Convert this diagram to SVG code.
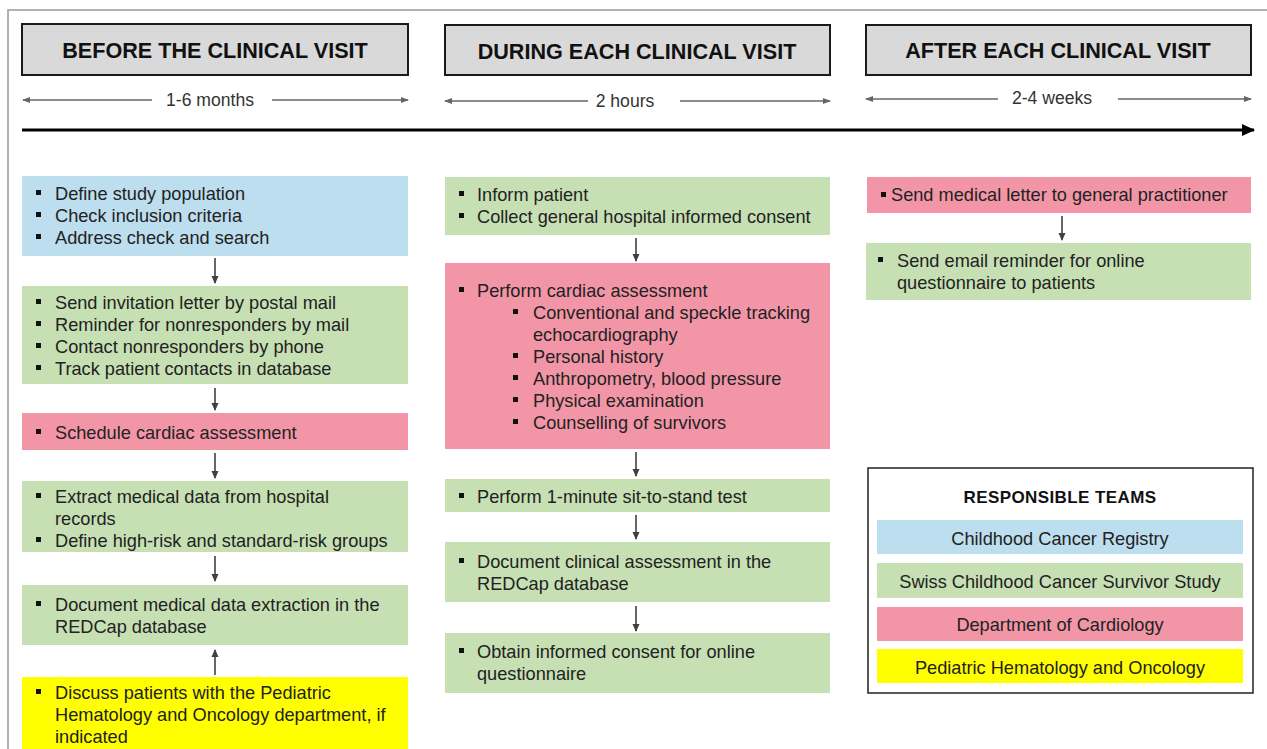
<svg xmlns="http://www.w3.org/2000/svg" width="1267" height="749" viewBox="0 0 1267 749">
<defs>
<marker id="ah" markerWidth="8" markerHeight="8" refX="7" refY="4" orient="auto" markerUnits="userSpaceOnUse">
<path d="M0,0.5 L8,4 L0,7.5 Z" fill="#404040"/>
</marker>
<marker id="ahd" markerWidth="10" markerHeight="8" refX="7" refY="4" orient="auto-start-reverse" markerUnits="userSpaceOnUse">
<path d="M0,1 L8,4 L0,7 Z" fill="#666"/>
</marker>
<marker id="ahm" markerWidth="14" markerHeight="12" refX="12" refY="6" orient="auto" markerUnits="userSpaceOnUse">
<path d="M0,0 L13,6 L0,12 Z" fill="#000"/>
</marker>
</defs>
<style>
text{font-family:"Liberation Sans",Arial,sans-serif;fill:#222;font-size:18.2px}
.hdr{fill:#D9D9D9;stroke:#1a1a1a;stroke-width:2}
.ht{font-weight:bold;font-size:21.6px;fill:#111;text-anchor:middle}
.dur{font-size:17.6px;fill:#333;text-anchor:middle}
.blue{fill:#BDDEEE}
.green{fill:#C6E0B4}
.pink{fill:#F296A7}
.yellow{fill:#FFFF00}
.b{fill:#111}
.conn{stroke:#404040;stroke-width:1.6;fill:none;marker-end:url(#ah)}
.durl{stroke:#666;stroke-width:1.3;fill:none}
.lt{text-anchor:middle}
</style>
<rect width="1267" height="749" fill="#fff"/>
<g id="frame" fill="none" stroke="#999" stroke-width="1.5">
<path d="M8,749 L8,10 L1267,10"/>
</g>

<g id="header-before">
<rect class="hdr" x="22" y="24" width="386" height="51"/>
<text class="ht" x="215" y="58">BEFORE THE CLINICAL VISIT</text>
</g>
<g id="header-during">
<rect class="hdr" x="445" y="25" width="385" height="50"/>
<text class="ht" x="637" y="59">DURING EACH CLINICAL VISIT</text>
</g>
<g id="header-after">
<rect class="hdr" x="866" y="25" width="385" height="50"/>
<text class="ht" x="1058" y="58">AFTER EACH CLINICAL VISIT</text>
</g>

<g id="durations">
<line class="durl" x1="152" y1="100" x2="23" y2="100" marker-end="url(#ahd)"/>
<line class="durl" x1="272" y1="100" x2="408" y2="100" marker-end="url(#ahd)"/>
<text class="dur" x="210" y="106">1-6 months</text>
<line class="durl" x1="588" y1="101" x2="445" y2="101" marker-end="url(#ahd)"/>
<line class="durl" x1="680" y1="101" x2="830" y2="101" marker-end="url(#ahd)"/>
<text class="dur" x="625" y="107">2 hours</text>
<line class="durl" x1="998" y1="99" x2="866" y2="99" marker-end="url(#ahd)"/>
<line class="durl" x1="1118" y1="99" x2="1251" y2="99" marker-end="url(#ahd)"/>
<text class="dur" x="1052" y="104">2-4 weeks</text>
</g>

<g id="timeline">
<line x1="22" y1="130" x2="1254" y2="130" stroke="#000" stroke-width="3" marker-end="url(#ahm)"/>
</g>

<!-- Left column -->
<g id="n-define">
<rect class="blue" x="22" y="176" width="386" height="80"/>
<rect class="b" x="36" y="190" width="5" height="5"/><text x="55" y="200">Define study population</text>
<rect class="b" x="36" y="212" width="5" height="5"/><text x="55" y="222">Check inclusion criteria</text>
<rect class="b" x="36" y="234" width="5" height="5"/><text x="55" y="244">Address check and search</text>
</g>
<g id="n-invite">
<rect class="green" x="22" y="286" width="386" height="98"/>
<rect class="b" x="36" y="299" width="5" height="5"/><text x="55" y="309">Send invitation letter by postal mail</text>
<rect class="b" x="36" y="321" width="5" height="5"/><text x="55" y="331">Reminder for nonresponders by mail</text>
<rect class="b" x="36" y="343" width="5" height="5"/><text x="55" y="353">Contact nonresponders by phone</text>
<rect class="b" x="36" y="365" width="5" height="5"/><text x="55" y="375">Track patient contacts in database</text>
</g>
<g id="n-schedule">
<rect class="pink" x="22" y="413" width="386" height="37"/>
<rect class="b" x="36" y="429" width="5" height="5"/><text x="55" y="439">Schedule cardiac assessment</text>
</g>
<g id="n-extract">
<rect class="green" x="22" y="481" width="386" height="71"/>
<rect class="b" x="36" y="493" width="5" height="5"/><text x="55" y="503">Extract medical data from hospital</text>
<text x="55" y="525">records</text>
<rect class="b" x="36" y="537" width="5" height="5"/><text x="55" y="547">Define high-risk and standard-risk groups</text>
</g>
<g id="n-document">
<rect class="green" x="22" y="585" width="386" height="60"/>
<rect class="b" x="36" y="601" width="5" height="5"/><text x="55" y="611">Document medical data extraction in the</text>
<text x="55" y="633">REDCap database</text>
</g>
<g id="n-discuss">
<rect class="yellow" x="22" y="677" width="386" height="72"/>
<rect class="b" x="36" y="689" width="5" height="5"/><text x="55" y="699">Discuss patients with the Pediatric</text>
<text x="55" y="721">Hematology and Oncology department, if</text>
<text x="55" y="743">indicated</text>
</g>

<!-- Middle column -->
<g id="n-inform">
<rect class="green" x="445" y="177" width="385" height="58"/>
<rect class="b" x="459" y="191" width="5" height="5"/><text x="477" y="201">Inform  patient</text>
<rect class="b" x="459" y="213" width="5" height="5"/><text x="477" y="223">Collect general hospital informed consent</text>
</g>
<g id="n-cardiac">
<rect class="pink" x="445" y="263" width="385" height="186"/>
<rect class="b" x="459" y="287" width="5" height="5"/><text x="477" y="297">Perform cardiac assessment</text>
<rect class="b" x="513" y="309" width="5" height="5"/><text x="533" y="319">Conventional and speckle tracking</text>
<text x="533" y="341">echocardiography</text>
<rect class="b" x="513" y="353" width="5" height="5"/><text x="533" y="363">Personal history</text>
<rect class="b" x="513" y="375" width="5" height="5"/><text x="533" y="385">Anthropometry, blood pressure</text>
<rect class="b" x="513" y="397" width="5" height="5"/><text x="533" y="407">Physical examination</text>
<rect class="b" x="513" y="419" width="5" height="5"/><text x="533" y="429">Counselling of survivors</text>
</g>
<g id="n-sit">
<rect class="green" x="445" y="479" width="385" height="33"/>
<rect class="b" x="459" y="493" width="5" height="5"/><text x="477" y="503">Perform 1-minute sit-to-stand test</text>
</g>
<g id="n-docclin">
<rect class="green" x="445" y="542" width="385" height="60"/>
<rect class="b" x="459" y="558" width="5" height="5"/><text x="477" y="568">Document clinical assessment in the</text>
<text x="477" y="590">REDCap database</text>
</g>
<g id="n-obtain">
<rect class="green" x="445" y="633" width="385" height="60"/>
<rect class="b" x="459" y="648" width="5" height="5"/><text x="477" y="658">Obtain informed consent for online</text>
<text x="477" y="680">questionnaire</text>
</g>

<!-- Right column -->
<g id="n-letter">
<rect class="pink" x="867" y="177" width="384" height="36"/>
<rect class="b" x="881" y="192" width="5" height="5"/><text x="891" y="201">Send medical letter to general practitioner</text>
</g>
<g id="n-email">
<rect class="green" x="866" y="243" width="385" height="57"/>
<rect class="b" x="878" y="257" width="5" height="5"/><text x="897" y="267">Send email reminder for online</text>
<text x="897" y="289">questionnaire to patients</text>
</g>

<g id="legend">
<rect x="868" y="468" width="385" height="225" fill="#fff" stroke="#222" stroke-width="1.5"/>
<text x="1060" y="503" class="lt" style="font-weight:bold;font-size:17px;letter-spacing:0.4px;fill:#111">RESPONSIBLE TEAMS</text>
<rect class="blue" x="877" y="520" width="366" height="34"/>
<text x="1060" y="545" class="lt">Childhood Cancer Registry</text>
<rect class="green" x="877" y="563" width="366" height="35"/>
<text x="1060" y="588" class="lt">Swiss Childhood Cancer Survivor Study</text>
<rect class="pink" x="877" y="607" width="366" height="34"/>
<text x="1060" y="631" class="lt">Department of Cardiology</text>
<rect class="yellow" x="877" y="649" width="366" height="34"/>
<text x="1060" y="674" class="lt">Pediatric Hematology and Oncology</text>
</g>

<g id="connectors">
<line class="conn" x1="215" y1="258" x2="215" y2="283"/>
<line class="conn" x1="215" y1="388" x2="215" y2="410"/>
<line class="conn" x1="215" y1="453" x2="215" y2="478"/>
<line class="conn" x1="215" y1="556" x2="215" y2="581"/>
<line class="conn" x1="215" y1="675" x2="215" y2="650"/>
<line class="conn" x1="636" y1="238" x2="636" y2="261"/>
<line class="conn" x1="636" y1="452" x2="636" y2="476"/>
<line class="conn" x1="636" y1="515" x2="636" y2="539"/>
<line class="conn" x1="636" y1="606" x2="636" y2="631"/>
<line class="conn" x1="1062" y1="216" x2="1062" y2="240"/>
</g>
</svg>
